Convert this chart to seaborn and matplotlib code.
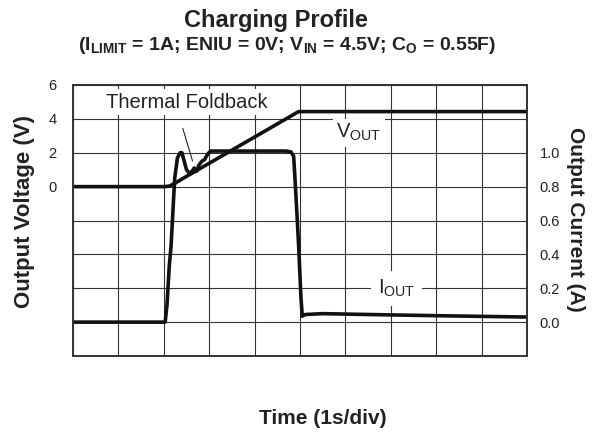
import matplotlib
matplotlib.use("Agg")
import matplotlib.pyplot as plt
import seaborn as sns
import pandas as pd

# ---- data (time in divisions, 1 s/div) ----
vout_t = [0.0, 2.0, 2.12, 2.25, 2.40, 4.97, 10.0]
vout_v = [0.0, 0.0, 0.03, 0.20, 0.45, 4.43, 4.43]

iout_t = [0.0, 2.03, 2.07, 2.12, 2.16, 2.19, 2.24, 2.30, 2.36, 2.40, 2.45, 2.50,
          2.56, 2.62, 2.67, 2.72, 2.78, 2.84, 2.90, 2.96, 3.03, 4.0, 4.70, 4.80,
          4.86, 4.90, 4.97, 5.02, 5.05, 5.12, 5.5, 6.5, 8.0, 10.0]
iout_a = [0.0, 0.0, 0.10, 0.33, 0.45, 0.60, 0.85, 0.97, 1.0, 1.0, 0.95, 0.90,
          0.88, 0.89, 0.91, 0.89, 0.93, 0.95, 0.96, 0.99, 1.01, 1.01, 1.01, 1.005,
          0.98, 0.80, 0.45, 0.15, 0.035, 0.045, 0.05, 0.045, 0.038, 0.03]

left_ticks = [-10, -8, -6, -4, -2, 0, 2, 4, 6]
left_labels = ["", "", "", "", "", "0", "2", "4", "6"]
right_ticks = [-0.2, 0.0, 0.2, 0.4, 0.6, 0.8, 1.0, 1.2, 1.4]
right_labels = ["", "0.0", "0.2", "0.4", "0.6", "0.8", "1.0", "", ""]
x_ticks = list(range(0, 11))

title = "Charging Profile"
subtitle = r"(I$_{\mathbf{LIMIT}}$ = 1A; ENIU = 0V; V$_{\mathbf{IN}}$ = 4.5V; C$_{\mathbf{O}}$ = 0.55F)"
xlabel = "Time (1s/div)"
ylabel_l = "Output Voltage (V)"
ylabel_r = "Output Current (A)"
note_text = "Thermal Foldback"
note_xy = (2.65, 1.36)      # arrow tip (time div, V)
note_start = (2.40, 3.60)   # arrow tail
note_pos = (2.50, 4.98)
vout_lbl = r"V$_{\mathrm{OUT}}$"
vout_lbl_pos = (6.29, 3.19)
iout_lbl = r"I$_{\mathrm{OUT}}$"
iout_lbl_pos = (7.13, 0.20)

sns.set_style("white")
plt.rcParams["font.family"] = ["Liberation Sans", "DejaVu Sans"]
plt.rcParams["mathtext.fontset"] = "custom"
plt.rcParams["mathtext.rm"] = "Liberation Sans"
plt.rcParams["mathtext.bf"] = "Liberation Sans:bold"
plt.rcParams["mathtext.it"] = "Liberation Sans:italic"

fig = plt.figure(figsize=(5.93, 4.34), dpi=100)
ax = fig.add_axes([73 / 593, 78 / 434, 454 / 593, 271 / 434])
ax2 = ax.twinx()

dfv = pd.DataFrame({"t": vout_t, "v": vout_v})
dfi = pd.DataFrame({"t": iout_t, "i": iout_a})

sns.lineplot(data=dfv, x="t", y="v", ax=ax, color="#111111", lw=2.6,
             estimator=None, sort=False)
sns.lineplot(data=dfi, x="t", y="i", ax=ax2, color="#111111", lw=2.6,
             estimator=None, sort=False)

ax.set_xlim(0, 10)
ax.set_ylim(-10, 6)
ax2.set_ylim(-0.2, 1.4)
ax.set_xticks(x_ticks)
ax.set_xticklabels([])
ax.set_yticks(left_ticks)
ax.set_yticklabels(left_labels)
ax2.set_yticks(right_ticks)
ax2.set_yticklabels(right_labels)

ax.grid(True, color="#333333", lw=0.8)
ax2.grid(False)
ax.set_axisbelow(True)
for a in (ax, ax2):
    a.tick_params(length=0, labelsize=10.5, labelcolor="#222222")
    a.set_xlabel("")
    a.set_ylabel("")
    for s in a.spines.values():
        s.set_color("#333333")
        s.set_linewidth(1.2)
ax.tick_params(axis="y", pad=12)
ax2.tick_params(axis="y", pad=9)

box = dict(facecolor="white", edgecolor="none", pad=2.5)
ax.annotate("", xy=note_xy, xytext=note_start,
            arrowprops=dict(arrowstyle="-", color="#222222", lw=0.8))
ax.text(*note_pos, note_text, fontsize=14.5, ha="center", va="center",
        color="#222222", bbox=box, zorder=5)
ax.text(*vout_lbl_pos, vout_lbl, fontsize=14.5, ha="center", va="center",
        color="#222222", bbox=box, zorder=5)
ax2.text(*iout_lbl_pos, iout_lbl, fontsize=14.5, ha="center", va="center",
         color="#222222", bbox=dict(facecolor="white", edgecolor="none", pad=5),
         zorder=5)

fig.text(276 / 593, 1 - 20 / 434, title, fontsize=17, fontweight="bold",
         ha="center", va="center", color="#222222")
fig.text(287 / 593, 1 - 46 / 434, subtitle, fontsize=14, fontweight="bold",
         ha="center", va="center", color="#222222")
fig.text(323 / 593, 1 - 418 / 434, xlabel, fontsize=15, fontweight="bold",
         ha="center", va="center", color="#222222")
fig.text(25 / 593, 1 - 211 / 434, ylabel_l, fontsize=16, fontweight="bold",
         rotation=90, ha="center", va="center", color="#222222")
fig.text(576 / 593, 1 - 219 / 434, ylabel_r, fontsize=15, fontweight="bold",
         rotation=270, ha="center", va="center", color="#222222")

fig.savefig("out.png", dpi=100)
